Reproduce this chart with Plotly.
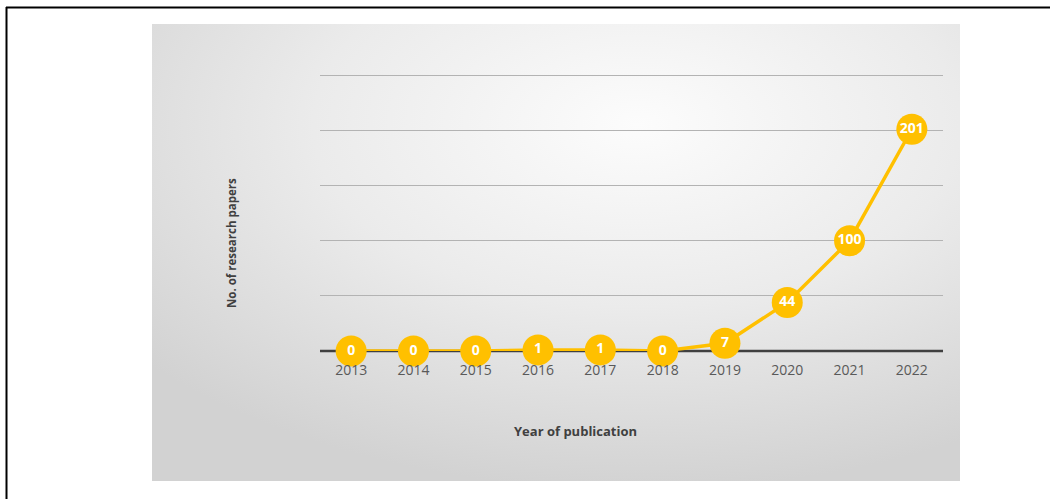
import base64
import plotly.graph_objects as go

years = ["2013", "2014", "2015", "2016", "2017", "2018", "2019", "2020", "2021", "2022"]
papers = [0, 0, 0, 1, 1, 0, 7, 44, 100, 201]

W, H = 1050, 499
L, R, T, B = 320, 943, 73, 351  # plot area pixels

def px(x):
    return (x - L) / (R - L)

def py(y):
    return (B - y) / (B - T)

svg = """<svg xmlns='http://www.w3.org/2000/svg' width='808' height='457' viewBox='0 0 808 457'>
<defs><radialGradient id='g' cx='0.6' cy='0.22' r='0.8' gradientUnits='objectBoundingBox'>
<stop offset='0' stop-color='#fcfcfc'/><stop offset='0.5' stop-color='#ebebeb'/><stop offset='1' stop-color='#d2d2d2'/>
</radialGradient></defs><rect width='808' height='457' fill='url(#g)'/></svg>"""
src = "data:image/svg+xml;base64," + base64.b64encode(svg.encode()).decode()

fig = go.Figure()
fig.add_trace(go.Scatter(
    x=years, y=papers, mode="lines+markers+text",
    line=dict(color="#FFC000", width=3.5),
    marker=dict(size=31, color="#FFC000"),
    text=[str(v) for v in papers], textposition="middle center",
    textfont=dict(color="white", size=14, family="Open Sans", weight="bold"),
    cliponaxis=False, hoverinfo="skip", showlegend=False,
))

fig.update_layout(
    width=W, height=H,
    margin=dict(l=L, r=W - R, t=T, b=H - B, pad=0),
    paper_bgcolor="white", plot_bgcolor="rgba(0,0,0,0)",
    xaxis=dict(type="category", range=[-0.5, 9.5], showgrid=False,
               showline=False, zeroline=False,
               ticks="outside", ticklen=6, tickcolor="rgba(0,0,0,0)",
               tickfont=dict(family="Open Sans", size=14, color="#595959")),
    yaxis=dict(range=[0, 252], tickvals=[50, 100, 150, 200, 250], showgrid=True,
               gridcolor="#b3b3b3", gridwidth=1,
               showticklabels=False, zeroline=False, showline=False),
    images=[dict(source=src, xref="paper", yref="paper", x=px(152), y=py(24),
                 sizex=(960 - 152) / (R - L), sizey=(481 - 24) / (B - T),
                 sizing="stretch", xanchor="left", yanchor="top", layer="below")],
    shapes=[
        dict(type="line", xref="paper", yref="paper", x0=0, x1=1, y0=0, y1=0,
             line=dict(color="#404040", width=2.5), layer="below"),
        dict(type="line", xref="paper", yref="paper", x0=px(6), x1=px(1052), y0=py(7.5), y1=py(7.5),
             line=dict(color="black", width=2)),
        dict(type="line", xref="paper", yref="paper", x0=px(6.5), x1=px(6.5), y0=py(7), y1=py(502),
             line=dict(color="black", width=2)),
    ],
    annotations=[
        dict(text="<b>Year of publication</b>", xref="paper", yref="paper",
             x=px(575), y=py(431), showarrow=False, xanchor="center", yanchor="middle",
             font=dict(family="Open Sans", size=13, color="#404040")),
        dict(text="<b>No. of research papers</b>", xref="paper", yref="paper",
             x=px(231), y=py(243), showarrow=False, xanchor="center", yanchor="middle",
             textangle=-90, font=dict(family="Open Sans", size=11.5, color="#404040")),
    ],
)

fig.write_html("out.html")
